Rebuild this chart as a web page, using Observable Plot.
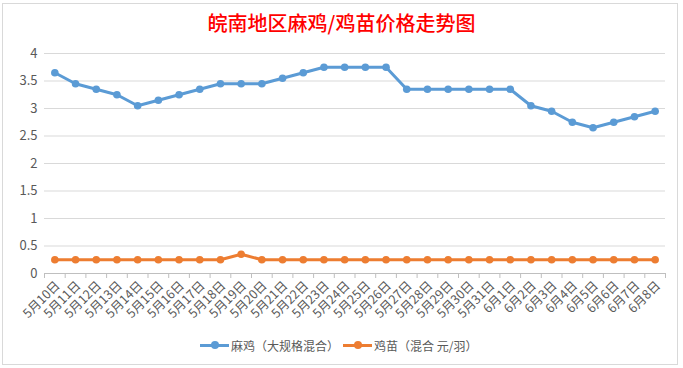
<!DOCTYPE html>
<html>
<head>
<meta charset="utf-8">
<script src="https://cdn.jsdelivr.net/npm/d3@7"></script>
<script src="https://cdn.jsdelivr.net/npm/@observablehq/plot@0.6"></script>
<style>
  html, body { margin: 0; padding: 0; background: #fff; }
  body { width: 683px; height: 368px; position: relative; overflow: hidden; font-family: "Noto Sans CJK SC", "Noto Sans", sans-serif; }
  #frame { position: absolute; left: 2px; top: 3px; width: 676px; height: 362px; border: 1px solid #d9d9d9; box-sizing: border-box; }
  #title { position: absolute; left: 0; width: 683px; top: 9px; text-align: center; color: #ff0000; font-size: 20px; font-weight: 500; line-height: 28px; }
  #chart { position: absolute; left: 0; top: 0; }
  #legend { position: absolute; top: 335px; left: 0; width: 683px; height: 20px; font-size: 12px; color: #595959; }
  .item { position: absolute; top: 0; display: flex; align-items: center; height: 20px; }
  .sw { position: relative; width: 29px; height: 20px; margin-right: 2px; }
  .sw .ln { position: absolute; left: 0; right: 0; top: 8.5px; height: 3px; }
  .sw .dt { position: absolute; left: 10.5px; top: 6px; width: 8px; height: 8px; border-radius: 50%; }
</style>
</head>
<body>
<div id="frame"></div>
<div id="title">皖南地区麻鸡/鸡苗价格走势图</div>
<div id="chart"></div>
<div id="legend"></div>
<script>
const dates = [
  "5月10日","5月11日","5月12日","5月13日","5月14日","5月15日","5月16日","5月17日","5月18日","5月19日",
  "5月20日","5月21日","5月22日","5月23日","5月24日","5月25日","5月26日","5月27日","5月28日","5月29日",
  "5月30日","5月31日","6月1日","6月2日","6月3日","6月4日","6月5日","6月6日","6月7日","6月8日"
];
const maji = [3.65,3.45,3.35,3.25,3.05,3.15,3.25,3.35,3.45,3.45,3.45,3.55,3.65,3.75,3.75,3.75,3.75,3.35,3.35,3.35,3.35,3.35,3.35,3.05,2.95,2.75,2.65,2.75,2.85,2.95];
const jimiao = [0.25,0.25,0.25,0.25,0.25,0.25,0.25,0.25,0.25,0.35,0.25,0.25,0.25,0.25,0.25,0.25,0.25,0.25,0.25,0.25,0.25,0.25,0.25,0.25,0.25,0.25,0.25,0.25,0.25,0.25];
const yTicks = [0,0.5,1,1.5,2,2.5,3,3.5,4];
const seriesNames = ["麻鸡（大规格混合）","鸡苗（混合 元/羽）"];
const seriesColors = ["#5b9bd5","#ed7d31"];

const data = [];
dates.forEach((d, i) => {
  data.push({date: d, value: maji[i], series: seriesNames[0]});
  data.push({date: d, value: jimiao[i], series: seriesNames[1]});
});

const W = 683, H = 335, ML = 44, MR = 18;
const step = (W - ML - MR) / dates.length;

const chart = Plot.plot({
  width: W,
  height: H,
  marginLeft: ML,
  marginRight: MR,
  marginTop: 53,
  marginBottom: 62,
  style: {background: "transparent", fontFamily: "'Noto Sans CJK SC', 'Noto Sans', sans-serif", color: "#595959"},
  x: {type: "point", domain: dates, padding: 0.5, round: false, axis: null, label: null},
  y: {domain: [0, 4], axis: null, label: null},
  color: {domain: seriesNames, range: seriesColors},
  marks: [
    Plot.gridY(yTicks.filter(t => t > 0), {stroke: "#d9d9d9", strokeOpacity: 1}),
    Plot.axisY(yTicks, {tickSize: 0, tickPadding: 7, fontSize: 13, fill: "#595959", tickFormat: d => String(d), label: null}),
    Plot.ruleY([0], {stroke: "#bfbfbf"}),
    Plot.axisX(dates, {tickSize: 5, text: null, stroke: "#bfbfbf", dx: -step / 2, label: null}),
    Plot.axisX(dates.slice(-1), {tickSize: 5, text: null, stroke: "#bfbfbf", dx: step / 2, label: null}),
    Plot.axisX(dates, {tickSize: 0, tickPadding: 10, tickRotate: -45, dx: 3, fontSize: 12.5, fill: "#595959", label: null}),
    Plot.line(data, {x: "date", y: "value", z: "series", stroke: "series", strokeWidth: 3, strokeLinejoin: "round", strokeLinecap: "round"}),
    Plot.dot(data, {x: "date", y: "value", fill: "series", r: 3.8, stroke: "none"})
  ]
});
document.getElementById("chart").appendChild(chart);

const legend = document.getElementById("legend");
const lefts = [200, 343];
seriesNames.forEach((name, i) => {
  const item = document.createElement("div");
  item.className = "item";
  item.style.left = lefts[i] + "px";
  item.innerHTML = `<div class="sw"><div class="ln" style="background:${seriesColors[i]}"></div><div class="dt" style="background:${seriesColors[i]}"></div></div><span>${name}</span>`;
  legend.appendChild(item);
});
</script>
</body>
</html>
